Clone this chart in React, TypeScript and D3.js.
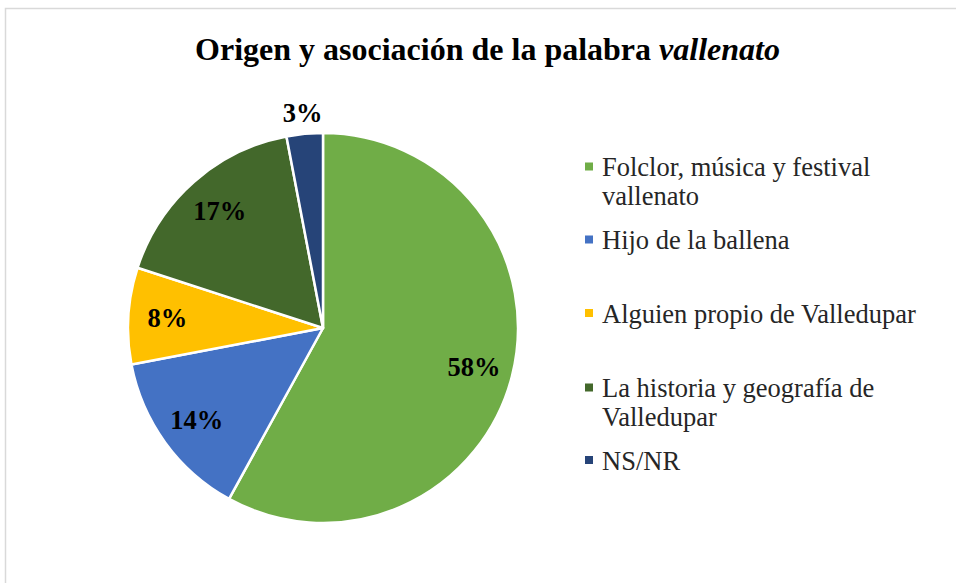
import React from "react";
import * as d3 from "d3";

const categories = [
  "Folclor, música y festival vallenato",
  "Hijo de la ballena",
  "Alguien propio de Valledupar",
  "La historia y geografía de Valledupar",
  "NS/NR",
];
const values = [58, 14, 8, 17, 3];
const colors = ["#70AD47", "#4472C4", "#FFC000", "#43682B", "#264478"];
const legendLines = [
  ["Folclor, música y festival", "vallenato"],
  ["Hijo de la ballena"],
  ["Alguien propio de Valledupar"],
  ["La historia y geografía de", "Valledupar"],
  ["NS/NR"],
];
const legendBaseline = [176, 249, 322.5, 397, 469.5];

export default function App() {
  const W = 956, H = 583;
  const cx = 323, cy = 328, r = 195;
  const pie = d3.pie<number>().sort(null).value((d) => d);
  const arcs = pie(values);
  const arc = d3.arc<d3.PieArcDatum<number>>().innerRadius(0).outerRadius(r);
  const labelArc = d3.arc<d3.PieArcDatum<number>>().innerRadius(r * 0.8).outerRadius(r * 0.8);
  const outerArc = d3.arc<d3.PieArcDatum<number>>().innerRadius(r * 1.11).outerRadius(r * 1.11);
  const font = "'Liberation Serif', 'Times New Roman', serif";
  return (
    <svg width={W} height={H} style={{ position: "absolute", left: 0, top: 0 }}>
      <rect x={0} y={0} width={W} height={H} fill="#fff" />
      <rect x={5.5} y={8.5} width={W + 10} height={H + 10} fill="none" stroke="#d9d9d9" strokeWidth={1.5} />
      <text x={487.5} y={60} textAnchor="middle" fontFamily={font} fontWeight="bold" fontSize={32} fill="#000">
        Origen y asociación de la palabra <tspan fontStyle="italic">vallenato</tspan>
      </text>
      <g transform={`translate(${cx},${cy})`}>
        {arcs.map((a, i) => (
          <path key={i} d={arc(a) || ""} fill={colors[i]} stroke="#fff" strokeWidth={2.5} strokeLinejoin="round" />
        ))}
        {arcs.map((a, i) => {
          const small = values[i] < 5;
          const [x, y] = small ? outerArc.centroid(a) : labelArc.centroid(a);
          return (
            <text key={i} x={x} y={y + 9} textAnchor="middle" fontFamily={font} fontWeight="bold" fontSize={26.5} fill="#000">
              {values[i]}%
            </text>
          );
        })}
      </g>
      {categories.map((c, i) => (
        <g key={c}>
          <rect x={585} y={legendBaseline[i] - 13.5} width={8} height={8} fill={colors[i]} />
          {legendLines[i].map((l, j) => (
            <text key={j} x={602} y={legendBaseline[i] + j * 28.5} fontFamily={font} fontSize={26.5} fill="#262626">
              {l}
            </text>
          ))}
        </g>
      ))}
    </svg>
  );
}
